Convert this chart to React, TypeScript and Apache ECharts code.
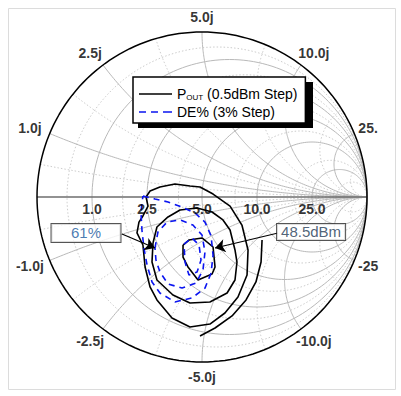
import React, { useEffect, useRef } from 'react';
import * as echarts from 'echarts';

// Smith chart normalisation (ohms)
const Z0 = 5;
const realTicks = [1.0, 2.5, 5.0, 10.0, 25.0];
const realTickLabels = ['1.0', '2.5', '5.0', '10.0', '25.0'];
const imagTicks = [1.0, 2.5, 5.0, 10.0, 25.0];
const imagTickLabelsPos = ['1.0j', '2.5j', '5.0j', '10.0j', '25.'];
const imagTickLabelsNeg = ['-1.0j', '-2.5j', '-5.0j', '-10.0j', '-25'];
const minorTicks = [0.5, 1.75, 3.75, 7.5, 17.5, 50];

// Contours, read as reflection-coefficient points [Re(G), Im(G)]
const poutLoop1 = [
  [-0.115, -0.291], [-0.079, -0.261], [0.0, -0.248], [0.067, -0.303], [0.079, -0.424],
  [0.061, -0.467], [-0.024, -0.503], [-0.085, -0.424], [-0.115, -0.364], [-0.115, -0.291],
];
const poutLoop2 = [
  [-0.297, -0.279], [-0.273, -0.182], [-0.206, -0.121], [-0.133, -0.079], [-0.03, -0.067],
  [0.061, -0.091], [0.127, -0.139], [0.17, -0.2], [0.2, -0.321], [0.212, -0.394],
  [0.2, -0.503], [0.152, -0.582], [0.048, -0.636], [-0.073, -0.642], [-0.176, -0.594],
  [-0.273, -0.503], [-0.303, -0.394], [-0.297, -0.279],
];
const poutLoop3 = [
  [-0.339, 0.0], [-0.315, 0.036], [-0.255, 0.061], [-0.164, 0.079], [-0.073, 0.067],
  [-0.012, 0.061], [0.067, 0.018], [0.17, -0.055], [0.242, -0.17], [0.279, -0.321],
  [0.273, -0.473], [0.218, -0.606], [0.139, -0.703], [0.048, -0.77], [-0.073, -0.788],
  [-0.182, -0.733], [-0.273, -0.624], [-0.315, -0.545], [-0.345, -0.424], [-0.358, -0.291],
  [-0.394, -0.218], [-0.382, -0.152], [-0.358, -0.115], [-0.327, -0.055], [-0.339, 0.0],
];
const poutArc4 = [
  [0.364, -0.261], [0.358, -0.394], [0.327, -0.515], [0.267, -0.624], [0.182, -0.721],
  [0.079, -0.794], [-0.012, -0.842],
];
const deLoop1 = [
  [-0.358, 0.006], [-0.285, -0.012], [-0.206, -0.03], [-0.121, -0.061], [-0.042, -0.097],
  [0.018, -0.152], [0.055, -0.236], [0.067, -0.352], [0.055, -0.461], [0.018, -0.552],
  [-0.061, -0.612], [-0.164, -0.636], [-0.255, -0.582], [-0.303, -0.515], [-0.333, -0.412],
  [-0.352, -0.309], [-0.364, -0.2], [-0.37, -0.091], [-0.358, 0.006],
];
const deLoop2 = [
  [-0.285, -0.309], [-0.267, -0.212], [-0.212, -0.152], [-0.133, -0.139], [-0.055, -0.17],
  [0.0, -0.23], [0.018, -0.333], [0.006, -0.442], [-0.036, -0.521], [-0.121, -0.552],
  [-0.206, -0.527], [-0.255, -0.455], [-0.279, -0.382], [-0.285, -0.309],
];
const deLoop3 = [
  [-0.109, -0.285], [-0.061, -0.248], [-0.018, -0.291], [-0.006, -0.382], [-0.03, -0.455],
  [-0.079, -0.473], [-0.103, -0.394], [-0.109, -0.285],
];

const annotationTexts = ['61%', '48.5dBm'];
const annotationAnchors = [[-0.703, -0.218], [0.661, -0.212]];
const arrowStarts = [[-0.485, -0.224], [0.461, -0.218]];
const arrowEnds = [[-0.285, -0.309], [0.079, -0.309]];

function gammaOf(r: number, x: number): [number, number] {
  const den = (r + 1) * (r + 1) + x * x;
  return [(r * r + x * x - 1) / den, (2 * x) / den];
}

function rCircle(rOhm: number) {
  const r = rOhm / Z0;
  const c = r / (1 + r);
  const R = 1 / (1 + r);
  const pts: number[][] = [];
  for (let i = 0; i <= 180; i++) {
    const p = (i / 180) * Math.PI * 2;
    pts.push([c + R * Math.cos(p), R * Math.sin(p)]);
  }
  return pts;
}

function xArc(xOhm: number) {
  const x = xOhm / Z0;
  const pts: number[][] = [];
  const N = 160;
  for (let i = 0; i < N; i++) {
    const r = Math.tan((i / N) * (Math.PI / 2));
    pts.push(gammaOf(r, x));
  }
  pts.push([1, 0]);
  return pts;
}

export default function App() {
  const ref = useRef<HTMLDivElement>(null);
  useEffect(() => {
    if (!ref.current) return;
    const chart = echarts.init(ref.current, undefined, { renderer: 'svg' });
    const font = 'Liberation Sans, Arial, sans-serif';
    const series: any[] = [];
    const gridLine = (data: number[][], major: boolean) => ({
      type: 'line', data, showSymbol: false, symbol: 'none', silent: true, clip: false,
      z: 1,
      lineStyle: major
        ? { color: '#b9b9b9', width: 1, type: 'solid' }
        : { color: '#cdcdcd', width: 1, type: [1.5, 2] },
    });
    minorTicks.forEach((v) => {
      series.push(gridLine(rCircle(v), false));
      series.push(gridLine(xArc(v), false));
      series.push(gridLine(xArc(-v), false));
    });
    realTicks.forEach((v) => series.push(gridLine(rCircle(v), true)));
    imagTicks.forEach((v) => {
      series.push(gridLine(xArc(v), true));
      series.push(gridLine(xArc(-v), true));
    });
    // real axis
    series.push({
      type: 'line', data: [[-1, 0], [1, 0]], symbol: 'none', silent: true, clip: false, z: 1,
      lineStyle: { color: '#6e6e6e', width: 1.5 },
    });
    // outer circle
    series.push({
      type: 'line', data: rCircle(0), symbol: 'none', silent: true, clip: false, z: 1,
      lineStyle: { color: '#000', width: 1.5 },
    });
    [poutLoop1, poutLoop2, poutLoop3, poutArc4].forEach((d) =>
      series.push({
        name: 'Pout', type: 'line', data: d, symbol: 'none', clip: false, z: 3,
        lineStyle: { color: '#000', width: 1.6 }, itemStyle: { color: '#000' },
      })
    );
    [deLoop1, deLoop2, deLoop3].forEach((d) =>
      series.push({
        name: 'DE', type: 'line', data: d, symbol: 'none', clip: false, z: 3,
        lineStyle: { color: '#0a14f0', width: 1.6, type: [6, 5] }, itemStyle: { color: '#0a14f0' },
      })
    );
    // tick labels
    const labelData: any[] = [];
    realTicks.forEach((v, i) => {
      const g = gammaOf(v / Z0, 0);
      labelData.push({ value: [g[0], -0.073], label: { formatter: realTickLabels[i] } });
    });
    imagTicks.forEach((v, i) => {
      const gp = gammaOf(0, v / Z0);
      const off = i === 4 ? [-6, 0] : [0, 0];
      labelData.push({ value: [gp[0] * 1.13, gp[1] * 1.09], label: { formatter: imagTickLabelsPos[i], offset: off } });
      labelData.push({ value: [gp[0] * 1.13, -gp[1] * 1.09], label: { formatter: imagTickLabelsNeg[i], offset: off } });
    });
    series.push({
      type: 'scatter', data: labelData, symbolSize: 1, silent: true, clip: false, z: 5,
      itemStyle: { color: 'rgba(0,0,0,0)' },
      label: { show: true, position: 'inside', color: '#000', fontSize: 14, fontWeight: 'bold', fontFamily: font },
    });
    // arrows
    series.push({
      type: 'lines', coordinateSystem: 'cartesian2d', silent: true, z: 6,
      symbol: ['none', 'arrow'], symbolSize: 10,
      lineStyle: { color: '#000', width: 1.2, opacity: 1 },
      data: arrowStarts.map((s, i) => ({ coords: [s, arrowEnds[i]] })),
    });
    // annotation boxes
    series.push({
      type: 'scatter', symbolSize: 1, silent: true, clip: false, z: 7,
      itemStyle: { color: 'rgba(0,0,0,0)' },
      data: annotationTexts.map((t, i) => ({
        value: annotationAnchors[i],
        label: {
          formatter: t,
          color: i === 0 ? '#1a5a9e' : '#243a55',
          width: i === 0 ? 61 : undefined,
          align: 'center',
          padding: i === 0 ? [2, 4, 1, 4] : [1, 4, 0, 4],
        },
      })),
      label: {
        show: true, position: 'inside', fontSize: 15, fontFamily: font,
        backgroundColor: '#fff', borderColor: '#2a2a2a', borderWidth: 1,
      },
    });

    chart.setOption({
      animation: false,
      backgroundColor: '#fff',
      grid: { left: 37, top: 32, width: 330, height: 330 },
      xAxis: { type: 'value', min: -1, max: 1, show: false },
      yAxis: { type: 'value', min: -1, max: 1, show: false },
      legend: {
        data: [
          { name: 'Pout', icon: 'path://M0,0h33v1.6h-33z', itemStyle: { color: '#000' } },
          { name: 'DE', icon: 'path://M0,0h7v1.6h-7zM12,0h7v1.6h-7zM24,0h9v1.6h-9z', itemStyle: { color: '#0a14f0' } },
        ],
        orient: 'vertical', left: 133, top: 77, z: 10,
        selectedMode: false,
        backgroundColor: '#fff', borderColor: '#000', borderWidth: 1.5,
        padding: [5, 8, 4, 6], itemGap: 4, itemWidth: 33, itemHeight: 2,
        textStyle: {
          fontFamily: font, fontSize: 14, color: '#000',
          rich: {
            a: { fontSize: 14, fontFamily: font, lineHeight: 14, verticalAlign: 'top' },
            b: { fontSize: 8, fontFamily: font, lineHeight: 8, verticalAlign: 'bottom', padding: [11, 0, 0, 0] },
            c: { fontSize: 14, fontFamily: font, lineHeight: 18 },
          },
        },
        formatter: (name: string) =>
          name === 'Pout' ? '{a|P}{b|OUT}{a| (0.5dBm Step)}' : '{c|DE% (3% Step)}',
      },
      graphic: [
        { type: 'rect', left: 6, top: 6, z: 0, shape: { width: 387, height: 381 }, style: { fill: 'none', stroke: '#dcdcdc', lineWidth: 1 } },
        { type: 'rect', left: 138, top: 82, z: 8, shape: { width: 175, height: 46 }, style: { fill: '#000' } },
      ],
      series,
    });
    return () => chart.dispose();
  }, []);
  return <div ref={ref} style={{ position: 'fixed', left: 0, top: 0, width: 401, height: 396 }} />;
}
